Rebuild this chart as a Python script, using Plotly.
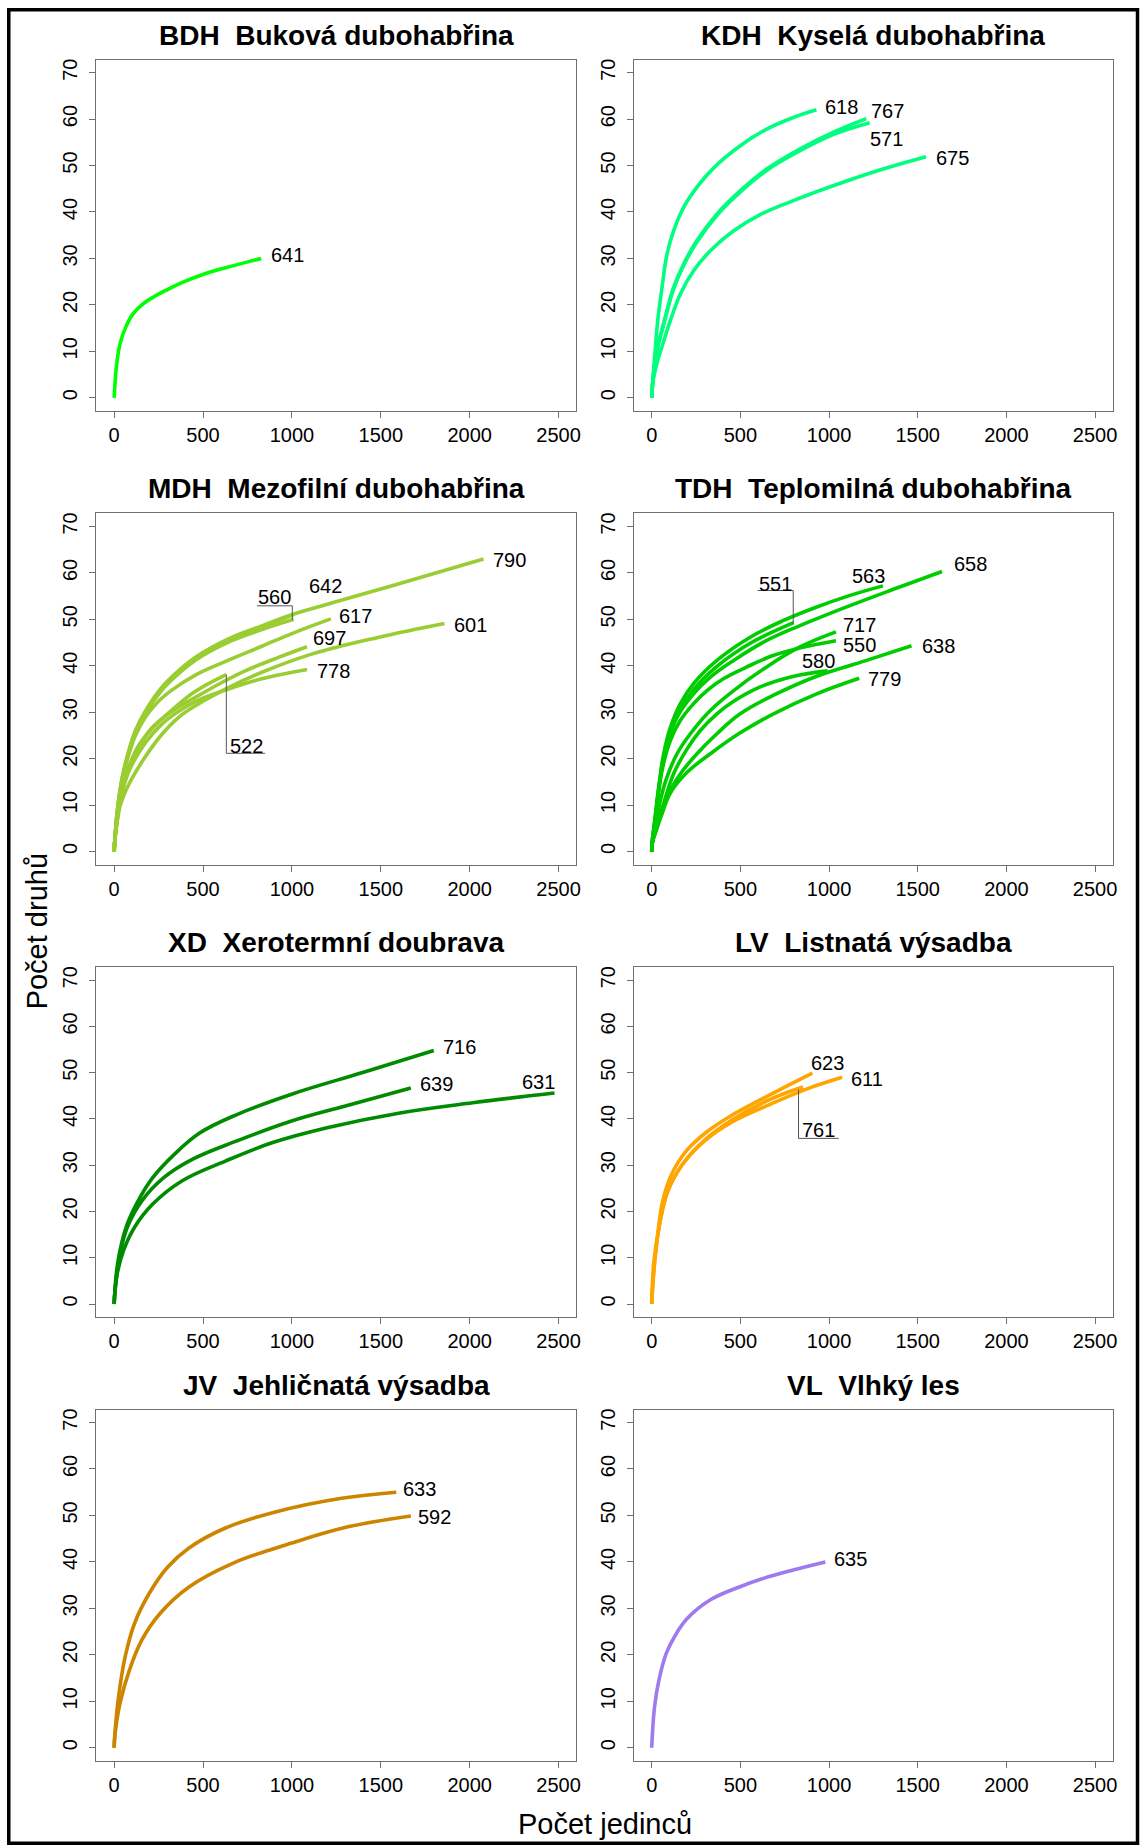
import plotly.graph_objects as go

# ---------------------------------------------------------------
# Rarefaction curves: number of individuals (n) vs. species (s)
# ---------------------------------------------------------------

# BDH  Buková dubohabřina
bdh_641_n = [0, 4, 12, 33, 64, 105, 156, 217, 300, 381, 503, 667, 827]
bdh_641_s = [0, 2.5, 6.5, 11.6, 15.1, 18.0, 20.0, 21.6, 23.3, 24.8, 26.6, 28.4, 30.0]

# KDH  Kyselá dubohabřina
kdh_618_n = [0, 4, 15, 34, 58, 86, 123, 180, 254, 347, 497, 646, 795, 929]
kdh_618_s = [0, 2.5, 8.0, 16.6, 23.7, 30.9, 35.9, 41.0, 45.3, 49.4, 54.2, 57.8, 60.3, 62.0]
kdh_767_n = [0, 5, 25, 76, 123, 180, 254, 366, 497, 646, 832, 1019, 1210]
kdh_767_s = [0, 3.0, 9.4, 17.3, 23.7, 28.8, 33.8, 39.5, 44.5, 49.2, 53.5, 57.1, 60.1]
kdh_571_n = [0, 5, 25, 76, 123, 180, 254, 366, 497, 646, 832, 1019, 1229]
kdh_571_s = [0, 3.0, 9.2, 17.0, 23.4, 28.5, 33.5, 39.2, 44.2, 48.9, 53.1, 56.6, 59.2]
kdh_675_n = [0, 5, 30, 58, 105, 161, 235, 329, 460, 609, 795, 1019, 1300, 1547]
kdh_675_s = [0, 3.0, 7.5, 11.0, 16.6, 22.3, 27.3, 31.6, 35.9, 39.4, 42.4, 45.6, 49.2, 51.9]

# MDH  Mezofilní dubohabřina
mdh_790_n = [0, 5, 18, 46, 83, 120, 177, 270, 363, 457, 643, 831, 999, 1204, 1578, 2078]
mdh_790_s = [0, 3.0, 8.8, 16.0, 21.7, 26.0, 30.3, 35.4, 38.9, 41.8, 45.8, 48.6, 51.0, 53.3, 57.4, 63.0]
mdh_642_n = [0, 5, 18, 46, 83, 120, 177, 270, 363, 457, 643, 831, 1010]
mdh_642_s = [0, 3.0, 8.8, 16.0, 21.7, 26.0, 30.3, 35.4, 38.9, 41.8, 45.6, 48.4, 51.0]
mdh_560_n = [0, 5, 18, 46, 83, 120, 177, 270, 363, 457, 643, 831, 1010]
mdh_560_s = [0, 3.0, 8.5, 15.6, 21.2, 25.5, 29.8, 34.8, 38.3, 41.2, 45.1, 47.8, 50.0]
mdh_617_n = [0, 5, 18, 46, 83, 120, 177, 240, 326, 457, 643, 831, 1017, 1219]
mdh_617_s = [0, 3.0, 8.5, 15.5, 21.0, 25.0, 29.0, 32.0, 34.8, 38.0, 41.2, 44.2, 47.2, 50.1]
mdh_697_n = [0, 4, 15, 40, 80, 140, 214, 326, 457, 606, 737, 924, 1085]
mdh_697_s = [0, 2.5, 6.0, 12.0, 17.5, 22.5, 26.7, 30.2, 33.2, 36.4, 38.9, 41.8, 44.1]
mdh_522_n = [0, 4, 15, 40, 80, 140, 214, 326, 457, 631]
mdh_522_s = [0, 2.5, 6.5, 12.5, 18.0, 23.0, 26.5, 30.5, 34.5, 38.1]
mdh_778_n = [0, 4, 12, 35, 80, 177, 270, 363, 457, 643, 831, 1085]
mdh_778_s = [0, 2.5, 5.5, 11.0, 17.0, 23.5, 27.5, 30.2, 32.3, 35.0, 37.2, 39.2]
mdh_601_n = [0, 4, 12, 35, 83, 177, 270, 363, 457, 643, 831, 1111, 1484, 1858]
mdh_601_s = [0, 2.5, 5.0, 10.0, 14.5, 20.5, 25.3, 28.9, 31.4, 35.3, 38.6, 42.5, 46.1, 49.1]

# TDH  Teplomilná dubohabřina
tdh_563_n = [0, 4, 15, 39, 67, 105, 161, 235, 366, 553, 740, 927, 1114, 1304]
tdh_563_s = [0, 2.5, 6.0, 13.8, 21.0, 26.7, 31.8, 36.1, 41.1, 46.1, 49.7, 52.6, 55.1, 57.2]
tdh_551_n = [0, 4, 15, 39, 67, 105, 161, 235, 366, 553, 800]
tdh_551_s = [0, 2.5, 5.8, 13.2, 20.0, 25.5, 30.5, 34.8, 39.8, 44.8, 49.3]
tdh_658_n = [0, 4, 15, 49, 86, 142, 235, 329, 460, 646, 833, 1114, 1394, 1637]
tdh_658_s = [0, 2.0, 5.0, 16.0, 23.2, 28.9, 33.9, 37.5, 41.1, 45.4, 48.6, 52.9, 56.9, 60.3]
tdh_717_n = [0, 4, 20, 49, 86, 142, 217, 329, 460, 646, 833, 1039]
tdh_717_s = [0, 2.0, 5.0, 11.0, 16.0, 21.0, 25.3, 30.3, 34.6, 39.7, 44.0, 47.3]
tdh_550_n = [0, 4, 20, 58, 105, 161, 235, 310, 404, 534, 684, 833, 1039]
tdh_550_s = [0, 2.5, 7.0, 17.4, 23.9, 28.2, 31.8, 34.6, 37.2, 39.7, 42.2, 43.8, 45.4]
tdh_580_n = [0, 4, 20, 67, 123, 198, 273, 366, 460, 609, 796, 992]
tdh_580_s = [0, 2.0, 4.5, 10.3, 16.7, 22.0, 26.0, 29.6, 32.3, 35.4, 37.7, 38.9]
tdh_638_n = [0, 4, 25, 86, 161, 254, 366, 497, 684, 927, 1207, 1465]
tdh_638_s = [0, 2.0, 4.5, 11.7, 16.7, 21.0, 25.3, 29.6, 33.6, 37.7, 41.1, 44.3]
tdh_779_n = [0, 4, 20, 58, 105, 198, 329, 497, 684, 927, 1170]
tdh_779_s = [0, 2.0, 4.0, 8.1, 12.6, 17.0, 21.0, 25.5, 29.6, 33.9, 37.3]

# XD  Xerotermní doubrava
xd_716_n = [0, 4, 12, 33, 74, 135, 217, 340, 483, 687, 994, 1403, 1798]
xd_716_s = [0, 2.5, 6.5, 11.6, 17.3, 22.3, 27.3, 32.4, 37.0, 40.9, 45.3, 50.1, 54.8]
xd_639_n = [0, 4, 33, 74, 156, 279, 442, 687, 994, 1301, 1669]
xd_639_s = [0, 2.5, 10.8, 16.6, 22.3, 27.3, 31.3, 35.2, 39.5, 42.8, 46.7]
xd_631_n = [0, 4, 17, 53, 115, 217, 381, 626, 892, 1198, 1608, 2017, 2477]
xd_631_s = [0, 2.5, 6.5, 11.6, 16.6, 21.6, 26.6, 30.9, 34.9, 38.1, 41.3, 43.5, 45.6]

# LV  Listnatá výsadba
lv_623_n = [0, 11, 31, 62, 113, 195, 317, 461, 686, 906]
lv_623_s = [0, 8.7, 14.4, 22.3, 28.1, 33.1, 37.4, 41.0, 45.6, 49.9]
lv_611_n = [0, 4, 21, 48, 92, 174, 297, 461, 665, 869, 1074]
lv_611_s = [0, 3.0, 10.8, 18.0, 24.5, 30.2, 35.2, 39.5, 43.1, 46.4, 49.0]
lv_761_n = [0, 4, 21, 48, 92, 174, 297, 461, 665, 853]
lv_761_s = [0, 3.0, 10.8, 18.0, 24.5, 30.2, 35.4, 40.0, 44.2, 46.9]

# JV  Jehličnatá výsadba
jv_633_n = [0, 4, 25, 62, 115, 197, 299, 421, 626, 912, 1280, 1587]
jv_633_s = [0, 3.0, 11.0, 19.6, 26.8, 33.2, 38.8, 43.0, 47.3, 50.8, 53.7, 55.0]
jv_592_n = [0, 4, 33, 86, 156, 258, 421, 667, 994, 1321, 1669]
jv_592_s = [0, 2.5, 9.6, 16.7, 23.2, 28.9, 34.6, 39.7, 44.0, 47.6, 49.9]

# VL  Vlhký les
vl_635_n = [0, 4, 16, 41, 82, 130, 200, 329, 494, 658, 979]
vl_635_s = [0, 3.0, 8.8, 14.6, 20.3, 24.0, 27.8, 31.8, 34.6, 36.8, 40.0]

x_ticks = [0, 500, 1000, 1500, 2000, 2500]
y_ticks = [0, 10, 20, 30, 40, 50, 60, 70]

panels = [
    ("BDH", "Buková dubohabřina", "#00FF00", {"641": (bdh_641_n, bdh_641_s)}),
    ("KDH", "Kyselá dubohabřina", "#00FF7F",
     {"618": (kdh_618_n, kdh_618_s), "767": (kdh_767_n, kdh_767_s),
      "571": (kdh_571_n, kdh_571_s), "675": (kdh_675_n, kdh_675_s)}),
    ("MDH", "Mezofilní dubohabřina", "#9ACD32",
     {"790": (mdh_790_n, mdh_790_s), "642": (mdh_642_n, mdh_642_s),
      "560": (mdh_560_n, mdh_560_s), "617": (mdh_617_n, mdh_617_s),
      "697": (mdh_697_n, mdh_697_s), "522": (mdh_522_n, mdh_522_s),
      "778": (mdh_778_n, mdh_778_s), "601": (mdh_601_n, mdh_601_s)}),
    ("TDH", "Teplomilná dubohabřina", "#00CD00",
     {"563": (tdh_563_n, tdh_563_s), "551": (tdh_551_n, tdh_551_s),
      "658": (tdh_658_n, tdh_658_s), "717": (tdh_717_n, tdh_717_s),
      "550": (tdh_550_n, tdh_550_s), "580": (tdh_580_n, tdh_580_s),
      "638": (tdh_638_n, tdh_638_s), "779": (tdh_779_n, tdh_779_s)}),
    ("XD", "Xerotermní doubrava", "#008B00",
     {"716": (xd_716_n, xd_716_s), "639": (xd_639_n, xd_639_s),
      "631": (xd_631_n, xd_631_s)}),
    ("LV", "Listnatá výsadba", "#FFA500",
     {"623": (lv_623_n, lv_623_s), "611": (lv_611_n, lv_611_s),
      "761": (lv_761_n, lv_761_s)}),
    ("JV", "Jehličnatá výsadba", "#CD8500",
     {"633": (jv_633_n, jv_633_s), "592": (jv_592_n, jv_592_s)}),
    ("VL", "Vlhký les", "#9F79EE", {"635": (vl_635_n, vl_635_s)}),
]

# ---------------------------------------------------------------
# Label placement (pixel shifts from the curve end, or a fixed spot
# in data units for labels set apart from their curve)
# ---------------------------------------------------------------
label_shift = {
    "641": (8, 3), "618": (7, 3), "767": (3, 8), "571": (-2, -16), "675": (8, -1),
    "790": (7, -1), "617": (6, 3), "697": (4, 9), "778": (8, -2), "601": (8, -2),
    "658": (10, 7), "717": (5, 7), "550": (5, -4), "638": (8, 0), "779": (7, -1),
    "716": (7, 3), "639": (7, 4), "611": (7, -2), "633": (5, 3), "592": (5, -1),
    "635": (7, 3),
}
label_fixed = {
    "642": (1191, 57.2), "560": (904, 54.7), "522": (746, 22.8),
    "563": (1225, 59.4), "551": (700, 57.7), "580": (943, 41.1),
    "631": (2388, 47.9), "623": (994, 52.1), "761": (938, 37.7),
}
leader_lines = {
    "560": [(803, 52.9), (1002, 52.9), (1002, 49.9)],
    "522": [(631, 38.1), (631, 21.15), (849, 21.15)],
    "551": [(597, 56.2), (798, 56.2), (798, 49.0)],
    "761": [(828, 46.35), (828, 35.8), (1054, 35.8)],
}

W, H = 1144, 1845
col_px = [(96.7, 578.4), (636.2, 1116.7)]
row_px = [(58.7, 410.0), (512.7, 864.0), (966.7, 1316.7), (1409.3, 1760.7)]
FONT = "Liberation Sans, Arial, sans-serif"
FRAME = "#6f6f6f"


def px_x(x):
    return x / W


def px_y(y):
    return 1 - y / H


fig = go.Figure()
annotations = []
shapes = []
layout_axes = {}

for i, (code, name, color, curves) in enumerate(panels):
    k = i + 1
    r, c = divmod(i, 2)
    left, right = col_px[c]
    top, bottom = row_px[r]
    xa, ya = f"x{k}", f"y{k}"

    layout_axes[f"xaxis{k}"] = dict(
        domain=[px_x(left), px_x(right)], anchor=ya, range=[-100, 2600],
        tickvals=x_ticks, ticktext=[str(v) for v in x_ticks],
        showline=True, mirror=True, linecolor=FRAME, linewidth=1,
        ticks="outside", ticklen=6, tickwidth=1, tickcolor=FRAME,
        tickfont=dict(family=FONT, size=20, color="black"),
        showgrid=False, zeroline=False, fixedrange=True,
    )
    layout_axes[f"yaxis{k}"] = dict(
        domain=[px_y(bottom), px_y(top)], anchor=xa, range=[-2.8, 72.8],
        tickvals=y_ticks, ticktext=[str(v) for v in y_ticks], tickangle=-90,
        showline=True, mirror=True, linecolor=FRAME, linewidth=1,
        ticks="outside", ticklen=6, tickwidth=1, tickcolor=FRAME,
        ticklabelstandoff=4,
        tickfont=dict(family=FONT, size=20, color="black"),
        showgrid=False, zeroline=False, fixedrange=True,
    )

    for label, (n, s) in curves.items():
        fig.add_trace(go.Scatter(
            x=n, y=s, mode="lines", xaxis=xa, yaxis=ya,
            line=dict(color=color, width=3.6, shape="spline", smoothing=1.1),
            hoverinfo="skip", showlegend=False,
        ))
        if label in label_fixed:
            lx, ly = label_fixed[label]
            annotations.append(dict(
                x=lx, y=ly, xref=xa, yref=ya, text=label, showarrow=False,
                xanchor="center", yanchor="middle",
                font=dict(family=FONT, size=20, color="black"),
            ))
        else:
            dx, dy = label_shift[label]
            annotations.append(dict(
                x=n[-1], y=s[-1], xref=xa, yref=ya, text=label, showarrow=False,
                xanchor="left", yanchor="middle", xshift=dx, yshift=dy,
                font=dict(family=FONT, size=20, color="black"),
            ))
        if label in leader_lines:
            pts = leader_lines[label]
            path = "M " + " L ".join(f"{px},{py}" for px, py in pts)
            shapes.append(dict(type="path", path=path, xref=xa, yref=ya,
                               line=dict(color="#555555", width=1)))

    annotations.append(dict(
        x=px_x((left + right) / 2), y=px_y(top - 24.5), xref="paper", yref="paper",
        text=f"<b>{code}\u00a0 {name}</b>", showarrow=False,
        xanchor="center", yanchor="middle",
        font=dict(family=FONT, size=28, color="black"),
    ))

# shared axis titles
annotations.append(dict(
    x=px_x(38), y=px_y(931), xref="paper", yref="paper", text="Počet druhů",
    showarrow=False, textangle=-90, xanchor="center", yanchor="middle",
    font=dict(family=FONT, size=29, color="black"),
))
annotations.append(dict(
    x=px_x(606.7), y=px_y(1824), xref="paper", yref="paper", text="Počet jedinců",
    showarrow=False, xanchor="center", yanchor="middle",
    font=dict(family=FONT, size=29, color="black"),
))

# outer border
shapes.append(dict(type="rect", xref="paper", yref="paper",
                   x0=px_x(8.8), x1=px_x(1141.5), y0=px_y(1843.3), y1=px_y(8.8),
                   line=dict(color="black", width=3.5)))

fig.update_layout(
    width=W, height=H, autosize=False,
    margin=dict(l=0, r=0, t=0, b=0),
    paper_bgcolor="white", plot_bgcolor="white",
    annotations=annotations, shapes=shapes,
    **layout_axes,
)

fig.write_html("out.html")
